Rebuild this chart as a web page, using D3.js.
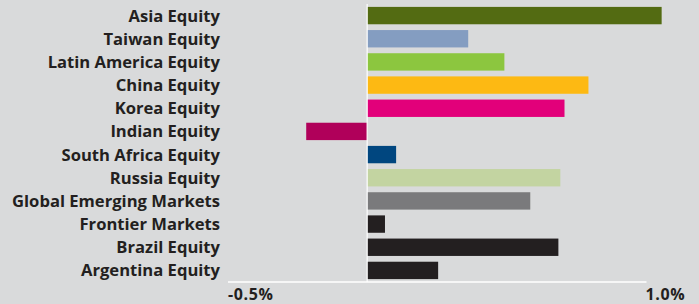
<!DOCTYPE html>
<html>
<head>
<meta charset="utf-8">
<script src="https://d3js.org/d3.v7.min.js"></script>
<style>
  body { margin: 0; background: #d9dadb; }
  svg { display: block; }
  text { font-family: "Open Sans", sans-serif; font-weight: bold; fill: #231f20; }
</style>
</head>
<body>
<div id="chart"></div>
<script>
var categories = ['Asia Equity', 'Taiwan Equity', 'Latin America Equity', 'China Equity',
  'Korea Equity', 'Indian Equity', 'South Africa Equity', 'Russia Equity',
  'Global Emerging Markets', 'Frontier Markets', 'Brazil Equity', 'Argentina Equity'];
var values = [1.058, 0.363, 0.493, 0.795, 0.709, -0.219, 0.104, 0.694, 0.586, 0.064, 0.687, 0.255];
var colors = ['#536b12', '#849dc1', '#8cc63f', '#fdb913', '#e2007a', '#b0005a',
  '#00467f', '#c3d4a1', '#7a7a7c', '#231f20', '#231f20', '#231f20'];
var ticks = [-0.5, 1.0];
var tickLabels = ['-0.5%', '1.0%'];

var W = 699, H = 304;

var svg = d3.select('#chart').append('svg').attr('width', W).attr('height', H);

var x = d3.scaleLinear().domain([-0.5, 1.0]).range([228, 645.5]);
var y = d3.scaleBand().domain(categories).range([4, 282]).paddingInner(0.25).paddingOuter(0.125);

// axis line along the bottom
svg.append('line')
  .attr('x1', x(-0.5)).attr('x2', x(1.0) + 1)
  .attr('y1', 282).attr('y2', 282)
  .attr('stroke', '#fff').attr('stroke-width', 1.5);

svg.selectAll('text.tick').data(ticks).enter().append('text')
  .attr('class', 'tick')
  .attr('x', function(d) { return x(d); })
  .attr('y', 300)
  .attr('font-size', 16)
  .attr('letter-spacing', 0.6)
  .text(function(d, i) { return tickLabels[i]; });

svg.selectAll('rect.bar').data(values).enter().append('rect')
  .attr('class', 'bar')
  .attr('x', function(d) { return x(Math.min(0, d)); })
  .attr('width', function(d) { return Math.abs(x(d) - x(0)); })
  .attr('y', function(d, i) { return y(categories[i]); })
  .attr('height', y.bandwidth())
  .attr('fill', function(d, i) { return colors[i]; });

// zero line
svg.append('line')
  .attr('x1', x(0)).attr('x2', x(0))
  .attr('y1', 4).attr('y2', 282)
  .attr('stroke', '#fff').attr('stroke-width', 1.2);

svg.selectAll('text.cat').data(categories).enter().append('text')
  .attr('class', 'cat')
  .attr('x', 220)
  .attr('y', function(d) { return y(d) + y.bandwidth() / 2; })
  .attr('dy', '0.36em')
  .attr('text-anchor', 'end')
  .attr('font-size', 16.6)
  .text(function(d) { return d; });
</script>
</body>
</html>
